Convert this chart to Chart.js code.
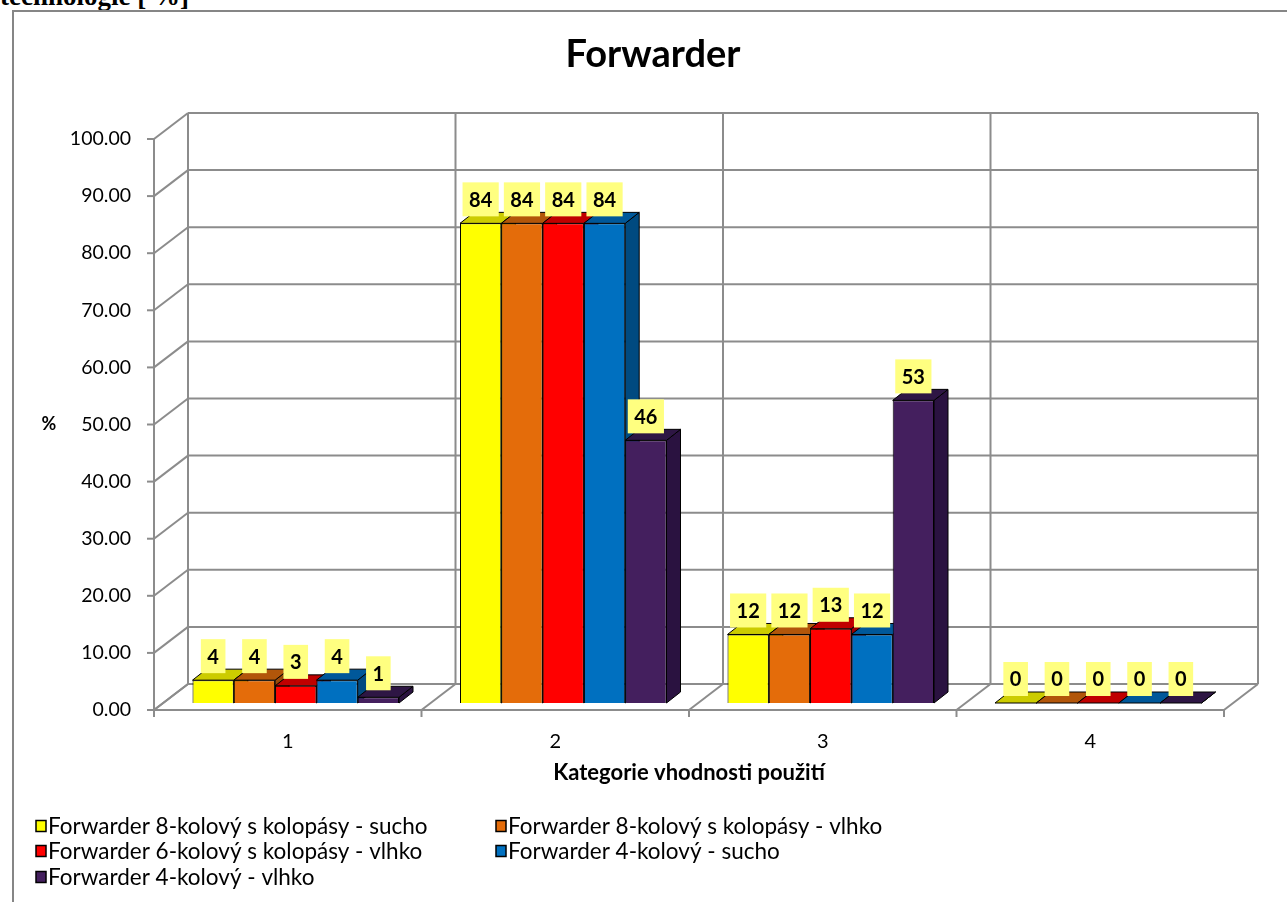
<!DOCTYPE html>
<html>
<head>
<meta charset="utf-8">
<script src="https://cdn.jsdelivr.net/npm/chart.js@4.4.1/dist/chart.umd.min.js"></script>
<style>
  html, body { margin: 0; padding: 0; background: #fff; overflow: hidden; width: 1287px; height: 902px; }
  #cap { position: absolute; left: 0; top: -17px; font: bold 27px "Liberation Serif", serif; line-height: 27px; white-space: nowrap; color: #000; }
  #frame { position: absolute; left: 12px; top: 10px; width: 1290px; height: 900px;
           border-top: 2px solid #868686; border-left: 2px solid #868686; background: #fff; }
  #frame canvas { display: block; }
</style>
</head>
<body>
<div id="cap">technologie [ %]</div>
<div id="frame"><canvas id="chart" width="1278" height="890"></canvas></div>
<script>
// ---- data ----
const categories = ['1', '2', '3', '4'];
const seriesNames = [
  'Forwarder 8-kolový s kolopásy - sucho',
  'Forwarder 8-kolový s kolopásy - vlhko',
  'Forwarder 6-kolový s kolopásy - vlhko',
  'Forwarder 4-kolový - sucho',
  'Forwarder 4-kolový - vlhko'
];
const sucho8 = [4, 84, 12, 0];
const vlhko8 = [4, 84, 12, 0];
const vlhko6 = [3, 84, 13, 0];
const sucho4 = [4, 84, 12, 0];
const vlhko4 = [1, 46, 53, 0];
const seriesValues = [sucho8, vlhko8, vlhko6, sucho4, vlhko4];

// ---- styles ----
const frontColors = ['#FFFF00', '#E46C0A', '#FF0000', '#0070C0', '#441F5E'];
const topColors   = ['#CCCC00', '#B2560A', '#C00000', '#00589A', '#2E1644'];
const sideColors  = ['#A8A800', '#9A4A08', '#A00000', '#004A80', '#2A1240'];
const GRID = '#8c8c8c';
const WALL = { x: 34, y: 26 };      // depth of the walls / floor
const SHIFT = { x: 8, y: 7 };       // bars sit slightly back from the front plane
const BAR = { x: 14, y: 11 };       // depth of each bar
const FONT = 'Lato, "Open Sans", sans-serif';

function poly(ctx, pts, fill) {
  ctx.beginPath();
  ctx.moveTo(pts[0][0], pts[0][1]);
  for (let k = 1; k < pts.length; k++) ctx.lineTo(pts[k][0], pts[k][1]);
  ctx.closePath();
  ctx.fillStyle = fill;
  ctx.fill();
  ctx.stroke();
}

const box3d = {
  id: 'box3d',
  beforeDatasetsDraw(chart) {
    const ctx = chart.ctx, xs = chart.scales.x, ys = chart.scales.y;
    const n = categories.length;
    const step = xs.getPixelForValue(1) - xs.getPixelForValue(0);
    const bounds = [];
    for (let k = 0; k <= n; k++) bounds.push(xs.getPixelForValue(0) - step / 2 + k * step);
    const y0 = ys.getPixelForValue(0), yTop = ys.getPixelForValue(ys.max);
    const line = (x1, y1, x2, y2) => { ctx.beginPath(); ctx.moveTo(x1, y1); ctx.lineTo(x2, y2); ctx.stroke(); };

    ctx.save();
    ctx.strokeStyle = GRID;
    ctx.lineWidth = 2;
    // back wall gridlines, left wall diagonals, value ticks
    ys.ticks.forEach(t => {
      const py = ys.getPixelForValue(t.value);
      line(bounds[0] + WALL.x, py - WALL.y, bounds[n] + WALL.x, py - WALL.y);
      line(bounds[0], py, bounds[0] + WALL.x, py - WALL.y);
      line(bounds[0] - 7, py, bounds[0], py);
    });
    // back wall verticals
    bounds.forEach(bx => line(bx + WALL.x, yTop - WALL.y, bx + WALL.x, y0 - WALL.y));
    // left wall front edge
    line(bounds[0], yTop, bounds[0], y0);
    // floor
    line(bounds[0], y0, bounds[n], y0);
    bounds.forEach(bx => { line(bx, y0, bx + WALL.x, y0 - WALL.y); line(bx, y0, bx, y0 + 7); });
    ctx.restore();

    // bars: side, top, then front face
    ctx.save();
    ctx.translate(SHIFT.x, -SHIFT.y);
    ctx.strokeStyle = '#000';
    ctx.lineWidth = 1;
    ctx.lineJoin = 'round';
    for (let j = 0; j < n; j++) {
      chart.data.datasets.forEach((ds, i) => {
        const el = chart.getDatasetMeta(i).data[j];
        const l = el.x - el.width / 2, r = el.x + el.width / 2, t = el.y, b = el.base;
        poly(ctx, [[r, t], [r + BAR.x, t - BAR.y], [r + BAR.x, b - BAR.y], [r, b]], sideColors[i]);
        poly(ctx, [[l, t], [l + BAR.x, t - BAR.y], [r + BAR.x, t - BAR.y], [r, t]], topColors[i]);
        el.draw(ctx);
      });
    }
    ctx.restore();
    return false;
  },
  afterDraw(chart) {
    const ctx = chart.ctx, ys = chart.scales.y;
    // value labels
    ctx.save();
    ctx.translate(SHIFT.x, -SHIFT.y);
    ctx.font = 'bold 20px ' + FONT;
    ctx.textAlign = 'center';
    ctx.textBaseline = 'middle';
    chart.data.datasets.forEach((ds, i) => {
      chart.getDatasetMeta(i).data.forEach((el, j) => {
        const txt = String(ds.data[j]);
        const w = ctx.measureText(txt).width + 13, h = 34;
        const cy = el.y - 24;
        ctx.fillStyle = '#FFFF80';
        ctx.fillRect(el.x - w / 2, cy - h / 2, w, h);
        ctx.fillStyle = '#000';
        ctx.fillText(txt, el.x, cy + 1);
      });
    });
    ctx.restore();

    // unit label of the value axis
    ctx.save();
    ctx.font = 'bold 18px ' + FONT;
    ctx.fillStyle = '#000';
    ctx.textAlign = 'center';
    ctx.textBaseline = 'middle';
    ctx.fillText('%', 35, ys.getPixelForValue(50));
    ctx.restore();

    // legend in two columns
    ctx.save();
    ctx.font = '22.5px ' + FONT;
    ctx.textBaseline = 'middle';
    ctx.textAlign = 'left';
    const colX = [22, 482], rowY = [814, 839, 865];
    chart.data.datasets.forEach((ds, i) => {
      const x = colX[i % 2], y = rowY[Math.floor(i / 2)];
      ctx.fillStyle = ds.backgroundColor;
      ctx.fillRect(x, y - 5.5, 10, 11);
      ctx.strokeStyle = '#000';
      ctx.lineWidth = 1.5;
      ctx.strokeRect(x, y - 5.5, 10, 11);
      ctx.fillStyle = '#000';
      ctx.fillText(ds.label, x + 12, y + 1);
    });
    ctx.restore();
  }
};

new Chart(document.getElementById('chart'), {
  type: 'bar',
  data: {
    labels: categories,
    datasets: seriesValues.map((vals, i) => ({
      label: seriesNames[i],
      data: vals,
      backgroundColor: frontColors[i],
      borderColor: '#000',
      borderWidth: 1,
      categoryPercentage: 0.772,
      barPercentage: 1
    }))
  },
  options: {
    responsive: false,
    animation: false,
    devicePixelRatio: 1,
    layout: { padding: { left: 0, right: 0, top: 0, bottom: 112 } },
    plugins: {
      legend: { display: false },
      tooltip: { enabled: false },
      title: {
        display: true,
        text: 'Forwarder',
        color: '#000',
        font: { family: FONT, size: 38, weight: 'bold', lineHeight: 1.2 },
        padding: { top: 20, bottom: 61.4 }
      }
    },
    scales: {
      x: {
        grid: { display: false, drawTicks: false },
        border: { display: false },
        ticks: { color: '#000', font: { family: FONT, size: 20 }, padding: 20 },
        title: {
          display: true,
          text: 'Kategorie vhodnosti použití',
          color: '#000',
          font: { family: FONT, size: 22, weight: 'bold', lineHeight: 1.2 },
          padding: { top: 0, bottom: 3.8 }
        },
        afterFit(scale) { scale.height = 80; }
      },
      y: {
        min: 0,
        max: 100,
        grid: { display: false, drawTicks: false },
        border: { display: false },
        ticks: {
          stepSize: 10,
          color: '#000',
          font: { family: FONT, size: 19.5 },
          padding: 23,
          callback: v => Number(v).toFixed(2)
        },
        afterFit(scale) { scale.width = 140; }
      },
      yRight: {
        position: 'right',
        display: true,
        grid: { display: false, drawTicks: false },
        border: { display: false },
        ticks: { display: false },
        afterFit(scale) { scale.width = 68; }
      }
    }
  },
  plugins: [box3d]
});
</script>
</body>
</html>
